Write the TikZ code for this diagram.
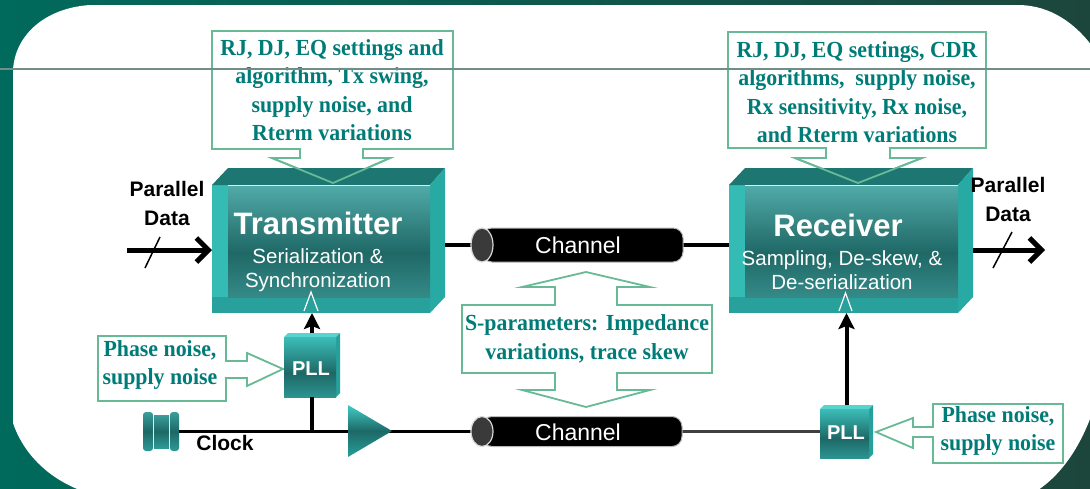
\documentclass[tikz,border=0pt]{standalone}
\usepackage{fontspec}
\setmainfont{Liberation Serif}
\newfontfamily\calfont{Liberation Serif}[FakeStretch=0.95]
\newfontfamily\sansfnt{Liberation Sans}
\usetikzlibrary{arrows.meta}

\definecolor{bgL}{RGB}{0,106,92}
\definecolor{bgR}{RGB}{28,70,60}
\definecolor{calline}{RGB}{104,186,150}
\definecolor{caltext}{RGB}{0,124,120}
\definecolor{bevTop}{RGB}{30,118,114}
\definecolor{bevLeft}{RGB}{52,188,180}
\definecolor{bevRight}{RGB}{40,170,164}
\definecolor{bevBot}{RGB}{40,160,156}
\definecolor{faceTop}{RGB}{150,228,224}
\definecolor{faceMid}{RGB}{80,170,168}
\definecolor{faceDark}{RGB}{31,104,102}
\definecolor{faceLow}{RGB}{60,150,148}
\definecolor{faceBot}{RGB}{92,184,180}
\definecolor{cubeLight}{RGB}{64,204,198}
\definecolor{cubeDark}{RGB}{29,104,102}
\definecolor{cubeTop}{RGB}{88,212,206}
\definecolor{cubeSide}{RGB}{38,160,156}
\definecolor{capgrey}{RGB}{58,58,58}
\definecolor{rule}{RGB}{112,142,135}

\pgfdeclareverticalshading{bevface}{100bp}{color(0bp)=(faceBot); color(18bp)=(faceLow); color(45bp)=(faceDark); color(75bp)=(faceMid); color(100bp)=(faceTop)}
\pgfdeclareverticalshading{cubeface}{100bp}{color(0bp)=(cubeLight); color(45bp)=(cubeDark); color(80bp)=(cubeLight); color(100bp)=(cubeTop)}
\pgfdeclareverticalshading{spoolface}{100bp}{color(0bp)=(cubeLight); color(50bp)=(cubeDark); color(100bp)=(cubeTop)}

% bevelled block between x = #1 and x = #2 (y from 168 to 313)
\newcommand\bevbox[2]{%
  \fill[bevLeft] (#1,185) rectangle (#1+16,313);
  \fill[bevBot] (#1,297) rectangle (#2-15,313);
  \fill[bevTop] (#1,185) -- (#1+16,168) -- (#2,168) -- (#2-15,185) -- cycle;
  \fill[bevRight] (#2-15,185) -- (#2,168) -- (#2,297) -- (#2-15,313) -- cycle;
  \shade[shading=bevface] (#1+16,186) rectangle (#2-15,297);
}
% small cube: corners (#1,#2) and (#3,#4)
\newcommand\cubebox[4]{%
  \fill[cubeTop] (#1,#2+4) -- (#1+4,#2) -- (#3,#2) -- (#3-4,#2+4) -- cycle;
  \fill[cubeSide] (#3-4,#2+4) -- (#3,#2) -- (#3,#4-4) -- (#3-4,#4) -- cycle;
  \shade[shading=cubeface] (#1,#2+4) rectangle (#3-4,#4);
}
% channel cable centred vertically on #3, from cap #1 to end #2, half height #4
\newcommand\cable[4]{%
  \fill[black, draw=gray!55, line width=1pt, rounded corners=10pt] (#1,#3-#4) rectangle (#2,#3+#4);
  \fill[capgrey, draw=gray!30, line width=1.2pt] (#1,#3) ellipse [x radius=11, y radius=#4];
}

\tikzset{
  callout/.style={fill=white, draw=calline, line width=1.8pt, line join=miter},
  calledge/.style={draw=calline, line width=1.8pt, line join=miter},
  calltext/.style={text=caltext, inner sep=0pt, align=center,
    font=\calfont\bfseries\fontsize{23}{28.5}\selectfont},
  titletext/.style={text=white, inner sep=0pt, font=\sansfnt\bfseries\fontsize{31}{36}\selectfont},
  subtext/.style={text=white, inner sep=0pt, align=center, font=\sansfnt\fontsize{20.5}{24.5}\selectfont},
  labeltext/.style={text=black, inner sep=0pt, align=center, font=\sansfnt\bfseries\fontsize{21}{29}\selectfont},
  chantext/.style={text=white, inner sep=0pt, font=\sansfnt\fontsize{23}{28}\selectfont},
  plltext/.style={text=white, inner sep=0pt, font=\sansfnt\bfseries\fontsize{20}{24}\selectfont},
  frame/.style={inner sep=0pt, outer sep=0pt, draw=none},
  wire/.style={line width=3.5pt, black},
  greywire/.style={line width=3pt, black!75},
  dataarrow/.style={line width=5pt, -{Straight Barb[length=12pt,width=24pt]}},
  clkarrow/.style={line width=4pt, -{Stealth[length=16pt,width=16pt,inset=3pt]}},
  slash/.style={line width=1.5pt, black},
  caret/.style={white, line width=1.2pt}
}

\begin{document}
\begin{tikzpicture}[x=1pt,y=-1pt]
\useasboundingbox (0,0) rectangle (1090,488);

% frame and white panel
\shade[left color=bgL, right color=bgR] (0,0) rectangle (1090,488);
\fill[white] (13,423) -- (13,70) .. controls (15,35) and (45,8) .. (90,5) -- (1020,5)
  .. controls (1050,6) and (1075,22) .. (1095,50) -- (1095,405)
  .. controls (1082,445) and (1062,475) .. (1035,492) -- (85,492)
  .. controls (45,478) and (22,450) .. (13,423) -- cycle;

% callout arrows (white bodies)
\path[callout, save path=\txcall] (212,31) -- (453,31) -- (453,149) -- (363,149) -- (363,158) -- (390,158)
  -- (333,183) -- (272,158) -- (300,158) -- (300,149) -- (212,149) -- cycle;
\path[callout, save path=\rxcall] (728,32) -- (986,32) -- (986,148) -- (890,148) -- (890,158) -- (922,158)
  -- (858,183) -- (795,158) -- (826,158) -- (826,148) -- (728,148) -- cycle;
\path[callout] (462,305) -- (555,305) -- (555,287) -- (522,287) -- (586,272) -- (650,287) -- (617,287)
  -- (617,305) -- (712,305) -- (712,373) -- (617,373) -- (617,390) -- (650,390) -- (586,407)
  -- (522,390) -- (555,390) -- (555,373) -- (462,373) -- cycle;
\path[callout] (98,336) -- (226,336) -- (226,361) -- (247,361) -- (247,353) -- (283,369) -- (247,386)
  -- (247,378) -- (226,378) -- (226,401) -- (98,401) -- cycle;
\path[callout] (1063,404) -- (1063,463) -- (933,463) -- (933,437) -- (913,437) -- (913,448) -- (876,432)
  -- (913,418) -- (913,427) -- (933,427) -- (933,404) -- cycle;

% blocks
\bevbox{212}{445}
\bevbox{729}{973}
\node[frame, minimum width=233pt, minimum height=145pt] (tx) at (328.5,240.5) {};
\node[frame, minimum width=244pt, minimum height=145pt] (rx) at (851,240.5) {};

\cubebox{284}{333}{340}{397}
\cubebox{820}{405}{873}{458}
\node[frame, minimum width=56pt, minimum height=64pt] (lpll) at (312,365) {};
\node[frame, minimum width=53pt, minimum height=53pt] (rpll) at (846.5,431.5) {};

% clock source
\shade[shading=spoolface, rounded corners=3pt] (143,412) rectangle (153,451);
\shade[shading=spoolface] (154,415) rectangle (169,448);
\shade[shading=spoolface, rounded corners=3pt] (170,412) rectangle (179,451);
\node[frame, minimum width=36pt, minimum height=39pt] (xtal) at (161,431.5) {};

% cable positions
\node[frame, minimum width=212pt, minimum height=34pt] (chtop) at (577,245) {};
\node[frame, minimum width=211pt, minimum height=30pt] (chbot) at (576.5,431.5) {};
\node[frame, minimum width=44pt, minimum height=52pt] (buf) at (370,431) {};

% wiring
\draw[wire] (tx.east |- chtop.west) -- (chtop.west);
\draw[wire] (chtop.east) -- (chtop.east -| rx.west);
\draw[wire] (xtal.east) -- (chbot.west);
\draw[greywire] (chbot.east) -- (rpll.west);
\draw[wire] (lpll.south) -- (lpll.south |- xtal.east);

\cable{482}{683}{245}{17}
\cable{482}{682}{431.5}{15}

% clock buffer
\shade[top color=cubeLight, bottom color=cubeSide, middle color=cubeDark]
  (buf.north west) -- (buf.east) -- (buf.south west) -- cycle;

% callout outlines over the blocks
\path[calledge, use path=\txcall];
\path[calledge, use path=\rxcall];

% parallel data
\coordinate (pdin) at (127,250);
\coordinate (pdout) at (1045,250);
\draw[dataarrow] (pdin) -- (pdin -| tx.west);
\draw[dataarrow] (rx.east |- pdout) -- (pdout);
\draw[slash] (145,268) -- (160,237);
\draw[slash] (993,268) -- (1012,232);

% PLL clocks into the blocks
\draw[clkarrow] (lpll.north) -- (lpll.north |- tx.south);
\draw[clkarrow] (rpll.north) -- (rpll.north |- rx.south);
\draw[caret] (304,311) -- (311,292) -- (318,311);
\draw[caret] (839,311) -- (845.5,293) -- (852,311);

% texts
\node[calltext] (txnote) at (332,90) {RJ, DJ, EQ settings and\\algorithm, Tx swing,\\supply noise, and\\Rterm variations};
\node[calltext] (rxnote) at (857,92) {RJ, DJ, EQ settings, CDR\\algorithms,\ \ supply noise,\\Rx sensitivity, Rx noise,\\and Rterm variations};
\node[calltext] (spnote) at (587,339) {S-parameters: Impedance\\variations, trace skew};
\node[calltext] (lpnote) at (160,365) {Phase noise,\\supply noise};
\node[calltext] (rpnote) at (998,431) {Phase noise,\\supply noise};

\node[titletext] (txname) at (318,223) {Transmitter};
\node[subtext] (txsub) at (318,270) {Serialization \&\\Synchronization};
\node[titletext] (rxname) at (838,225) {Receiver};
\node[subtext] (rxsub) at (842,270) {Sampling, De-skew, \&\\De-serialization};

\node[labeltext] (pdinlbl) at (167,203) {Parallel\\Data};
\node[labeltext] (pdoutlbl) at (1008,199) {Parallel\\Data};
\node[labeltext] (clklbl) at (225,443) {Clock};

\node[chantext] (chtoplbl) at (578,245) {Channel};
\node[chantext] (chbotlbl) at (578,432) {Channel};
\node[plltext] (lplllbl) at (311,369) {PLL};
\node[plltext] (rplllbl) at (846,433) {PLL};

% thin guide rule across the page
\draw[rule, line width=1.3pt] (0,69) -- (1090,69);
\end{tikzpicture}
\end{document}
